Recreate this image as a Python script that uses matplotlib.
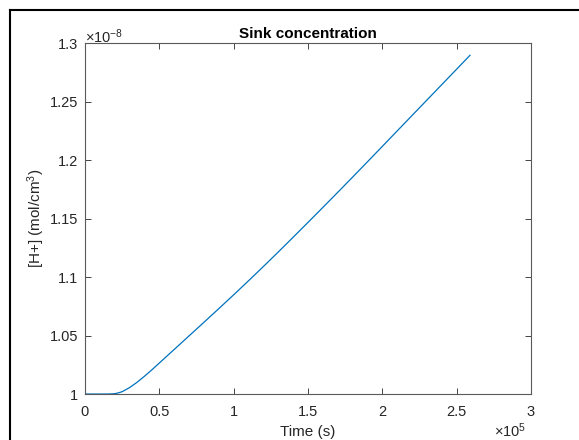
import matplotlib.pyplot as plt
from matplotlib.lines import Line2D
from matplotlib.ticker import FuncFormatter

plt.rcParams['font.family'] = ['Liberation Sans', 'DejaVu Sans']
plt.rcParams['mathtext.fontset'] = 'custom'
plt.rcParams['mathtext.rm'] = 'Liberation Sans'
plt.rcParams['mathtext.it'] = 'Liberation Sans:italic'

# tempo (s) e concentracao de H+ no sumidouro (mol/cm^3)
tempo = [0, 10000, 15000, 17500, 20000, 22500, 25000, 30000, 35000, 40000,
         45000, 50000, 60000, 70000, 80000, 90000, 100000, 110000, 120000,
         130000, 140000, 150000, 160000, 170000, 180000, 190000, 200000,
         210000, 220000, 230000, 240000, 250000, 259000]
conc = [1.0000e-8, 1.0000e-8, 1.0000e-8, 1.0001e-8, 1.0003e-8, 1.0010e-8,
        1.0020e-8, 1.0055e-8, 1.0100e-8, 1.0152e-8, 1.0207e-8, 1.0265e-8,
        1.0381e-8, 1.0497e-8, 1.0613e-8, 1.0730e-8, 1.0848e-8, 1.0968e-8,
        1.1090e-8, 1.1214e-8, 1.1340e-8, 1.1467e-8, 1.1595e-8, 1.1724e-8,
        1.1854e-8, 1.1985e-8, 1.2117e-8, 1.2249e-8, 1.2381e-8, 1.2513e-8,
        1.2645e-8, 1.2777e-8, 1.2896e-8]

cor_eixo = '#262626'

fig = plt.figure(figsize=(5.79, 4.40), dpi=100)
ax = fig.add_axes([0.1468, 0.1045, 0.7702, 0.7975])

ax.plot(tempo, conc, color='#0072BD', lw=0.9)

ax.set_xlim(0, 3e5)
ax.set_ylim(1.0e-8, 1.3e-8)
ax.set_xticks([0, 0.5e5, 1e5, 1.5e5, 2e5, 2.5e5, 3e5])
ax.set_yticks([1.0e-8, 1.05e-8, 1.1e-8, 1.15e-8, 1.2e-8, 1.25e-8, 1.3e-8])
ax.xaxis.set_major_formatter(FuncFormatter(lambda v, _: f'{v / 1e5:g}'))
ax.yaxis.set_major_formatter(FuncFormatter(lambda v, _: f'{v / 1e-8:g}'))

ax.tick_params(direction='in', length=4, width=0.6, colors=cor_eixo,
               labelsize=10.5, top=True, right=True)
ax.tick_params(axis='x', pad=8)
ax.tick_params(axis='y', pad=5)
for lado in ax.spines.values():
    lado.set_color('#595959')
    lado.set_linewidth(0.8)

ax.set_title('Sink concentration', fontsize=11, fontweight='bold', pad=4)
ax.set_xlabel('Time (s)', fontsize=11, color=cor_eixo, labelpad=4)
ax.set_ylabel('[H+] (mol/cm$^3$)', fontsize=11, color=cor_eixo, labelpad=2)

# multiplicadores dos eixos
ax.text(0.0, 0.993, r'$\times10^{-8}$', transform=ax.transAxes, fontsize=10.5,
        color=cor_eixo, ha='left', va='bottom')
fig.text(526 / 579, 3 / 440, r'$\times10^{5}$', fontsize=10.5,
         color=cor_eixo, ha='right', va='baseline')

# moldura da figura
fig.add_artist(Line2D([9.5 / 579, 9.5 / 579], [0, 1 - 10.5 / 440],
                      transform=fig.transFigure, color='black', lw=1.5))
fig.add_artist(Line2D([9.5 / 579, 1], [1 - 10.5 / 440, 1 - 10.5 / 440],
                      transform=fig.transFigure, color='black', lw=1.5))

plt.savefig('out.png', dpi=100)
